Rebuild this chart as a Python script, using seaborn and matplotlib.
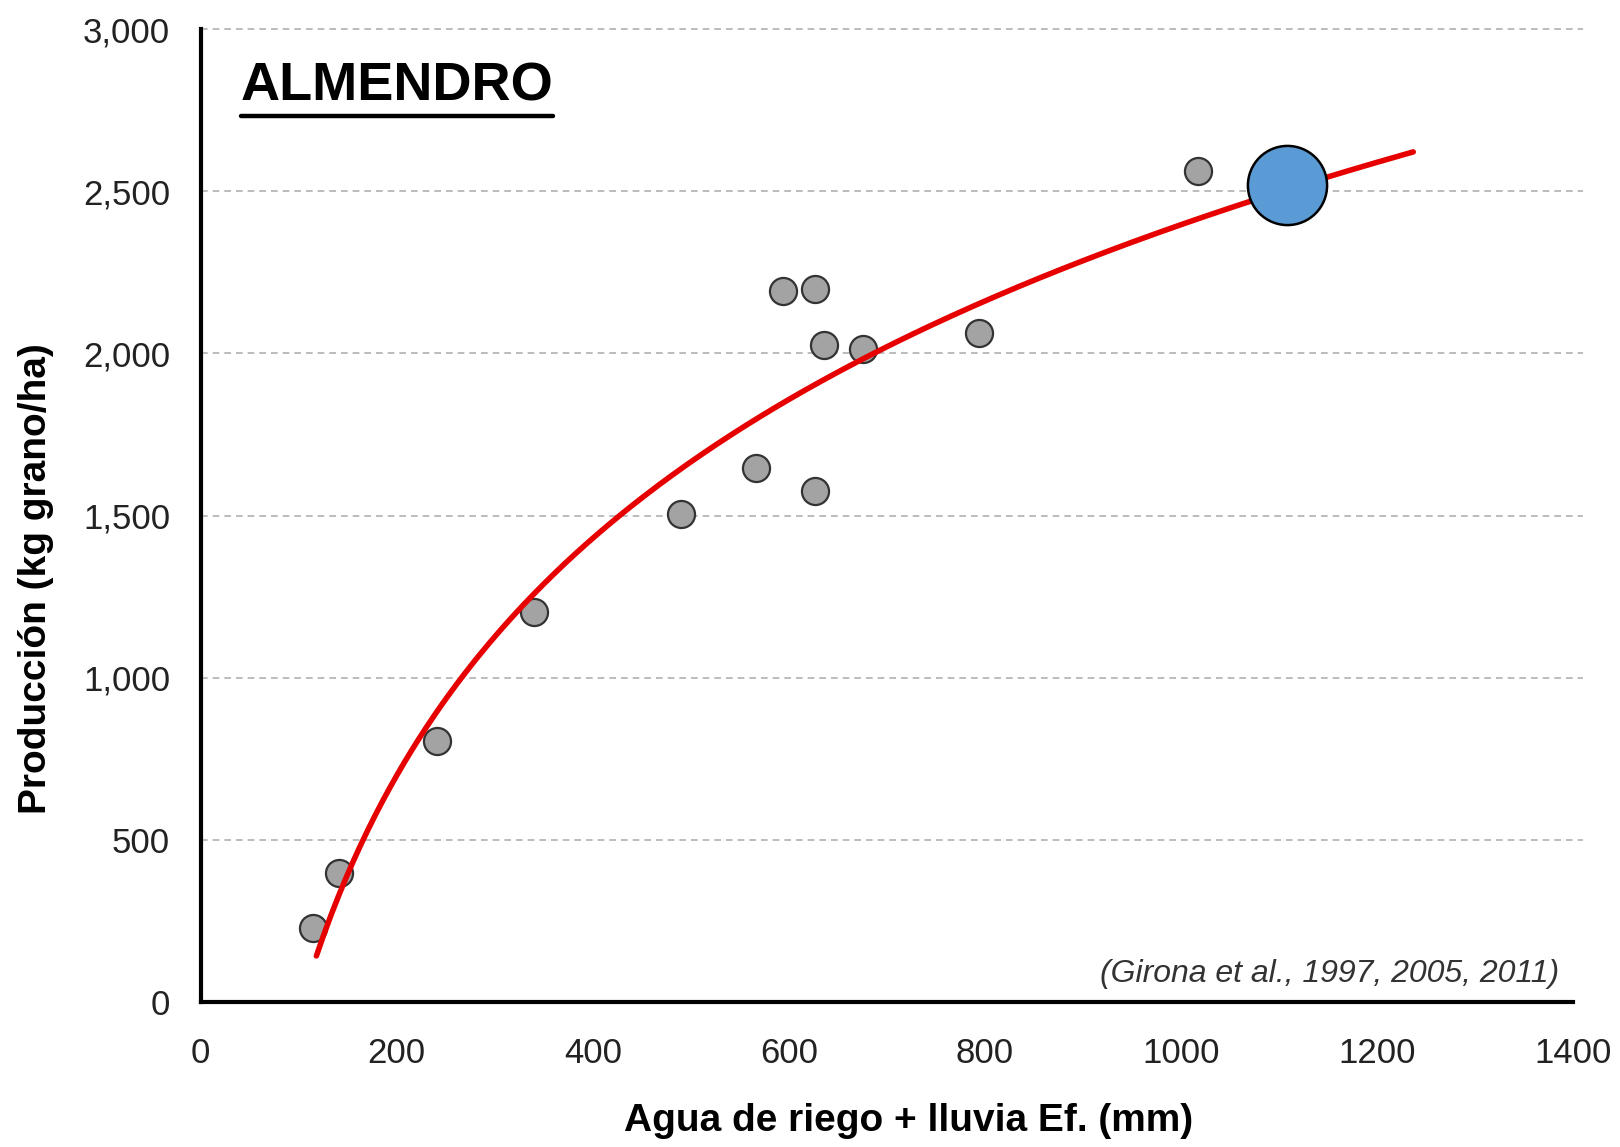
import matplotlib
matplotlib.use("Agg")
import matplotlib.pyplot as plt
import seaborn as sns
import numpy as np
import pandas as pd
from matplotlib.lines import Line2D

# measured points (gray) and the highlighted point (blue)
agua = [115, 141, 241, 340, 490, 566, 627, 594, 627, 636, 676, 794, 1017]
produccion = [229, 398, 806, 1204, 1506, 1646, 1576, 2191, 2197, 2025, 2013, 2064, 2561]
agua_dest = [1108]
prod_dest = [2519]

# logarithmic trend line y = a*ln(x) + b, drawn over its own range
fit_a = 1055
fit_b = -4891
fit_xmin = 118
fit_xmax = 1237

y_ticks = [0, 500, 1000, 1500, 2000, 2500, 3000]
x_ticks = [0, 200, 400, 600, 800, 1000, 1200, 1400]

sns.set_theme(style="white")
plt.rcParams['font.family'] = ['Liberation Sans', 'DejaVu Sans']

fig = plt.figure(figsize=(16.2, 11.47), dpi=100)
ax = fig.add_axes([0.1239, 0.1264, 0.971 - 0.1239, 0.9747 - 0.1264])

for yv in y_ticks[1:]:
    ax.plot([0, 1410], [yv, yv], color="#b0b0b0", lw=1.2, ls=(0, (4, 3)),
            zorder=0, clip_on=False)

xs = np.linspace(fit_xmin, fit_xmax, 300)
trend = pd.DataFrame({"x": xs, "y": fit_a * np.log(xs) + fit_b})

df = pd.DataFrame({"agua": agua, "prod": produccion})
sns.scatterplot(data=df, x="agua", y="prod", s=380, color="#a3a3a3",
                edgecolor="#333333", linewidth=1.6, ax=ax, zorder=3)
sns.lineplot(data=trend, x="x", y="y", color="#e60000", lw=4, ax=ax, zorder=4)
sns.scatterplot(x=agua_dest, y=prod_dest, s=3250, color="#5b9bd5",
                edgecolor="black", linewidth=1.8, ax=ax, zorder=5)

ax.set_xlim(0, 1400)
ax.set_ylim(0, 3000)
ax.set_xticks(x_ticks)
ax.set_yticks(y_ticks)
ax.set_xticklabels([str(v) for v in x_ticks])
ax.set_yticklabels(["{:,}".format(v) for v in y_ticks])
ax.tick_params(axis="both", direction="out", length=10, width=3, color="black",
               labelsize=25, labelcolor="#222222")
ax.tick_params(axis="y", pad=12)
ax.tick_params(axis="x", pad=15)

for s in ["top", "right"]:
    ax.spines[s].set_visible(False)
for s in ["left", "bottom"]:
    ax.spines[s].set_color("black")
    ax.spines[s].set_linewidth(3)

ax.set_xlabel("Agua de riego + lluvia Ef. (mm)", fontsize=28, fontweight="bold",
              color="black")
ax.set_ylabel("Producción (kg grano/ha)", fontsize=28, fontweight="bold",
              color="black")
ax.xaxis.set_label_coords(0.5155, -0.122)
ax.yaxis.set_label_coords(-0.12, 0.435)
ax.xaxis.label.set_va("center")
ax.yaxis.label.set_va("center")

title = ax.text(0.029, 0.941, "ALMENDRO", transform=ax.transAxes, fontsize=39,
                fontweight="bold", color="black", ha="left", va="center")
ax.text(0.99, 0.013, "(Girona et al., 1997, 2005, 2011)", transform=ax.transAxes,
        fontsize=23, fontstyle="italic", color="#333333", ha="right", va="bottom")

fig.canvas.draw()
bb = title.get_window_extent().transformed(fig.transFigure.inverted())
uy = bb.y0 - 0.004
fig.add_artist(Line2D([bb.x0, bb.x1], [uy, uy], color="black", lw=3.2,
                      transform=fig.transFigure))

fig.savefig("out.png", dpi=100)
